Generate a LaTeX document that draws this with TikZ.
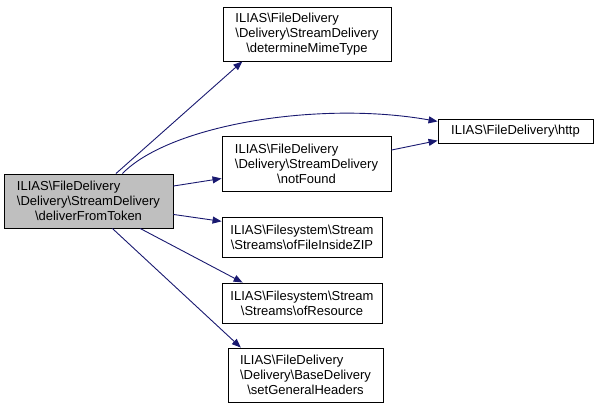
\documentclass[tikz,border=0pt]{standalone}
\usepackage{fontspec}
\setmainfont{Liberation Sans}
\usetikzlibrary{arrows.meta}
\definecolor{edgeblue}{HTML}{191970}
\definecolor{mainfill}{HTML}{BFBFBF}

\begin{document}
\begin{tikzpicture}[x=1pt,y=-1pt,
        box/.style={draw=black,line width=0.9pt,rectangle,inner sep=0pt,align=left,
            font=\fontsize{13}{15}\selectfont},
        edge/.style={draw=edgeblue,line width=0.9pt,-{Triangle[length=9pt,width=7pt]}}]
            \useasboundingbox (0,0) rectangle (599,409);

            \node[box,fill=mainfill,minimum width=169pt,minimum height=54pt] (deliver) at (88.5,201)
                {ILIAS\textbackslash FileDelivery\\\textbackslash Delivery\textbackslash StreamDelivery\\\hfil\textbackslash deliverFromToken};
            \node[box,minimum width=168pt,minimum height=54pt] (mime) at (307,34)
                {ILIAS\textbackslash FileDelivery\\\textbackslash Delivery\textbackslash StreamDelivery\\\hfil\textbackslash determineMimeType};
            \node[box,minimum width=155pt,minimum height=24pt] (http) at (515.5,131)
                {ILIAS\textbackslash FileDelivery\textbackslash http};
            \node[box,minimum width=169pt,minimum height=55pt] (notfound) at (306.5,163.5)
                {ILIAS\textbackslash FileDelivery\\\textbackslash Delivery\textbackslash StreamDelivery\\\hfil\textbackslash notFound};
            \node[box,minimum width=160pt,minimum height=40pt] (zip) at (302,237)
                {ILIAS\textbackslash Filesystem\textbackslash Stream\\\hfil\textbackslash Streams\textbackslash ofFileInsideZIP};
            \node[box,minimum width=160pt,minimum height=40pt] (resource) at (302,303)
                {ILIAS\textbackslash Filesystem\textbackslash Stream\\\hfil\textbackslash Streams\textbackslash ofResource};
            \node[box,minimum width=155pt,minimum height=54pt] (headers) at (305.5,375)
                {ILIAS\textbackslash FileDelivery\\\textbackslash Delivery\textbackslash BaseDelivery\\\hfil\textbackslash setGeneralHeaders};

            \draw[edge] (deliver.45)-- (mime.203);
            \draw[edge] (deliver.39) .. controls +(48,-49) and +(-118,-21) .. (http.173);
            \draw[edge] (notfound.9)-- (http.187);
            \draw[edge] (deliver.10)-- (notfound.190);
            \draw[edge] (deliver.-9)-- (zip.169);
            \draw[edge] (deliver.-28)-- (resource.161);
            \draw[edge] (deliver.-49)-- (headers.157);
            % \draw[edge] (deliver)-- (http);
        \end{tikzpicture}
\end{document}
